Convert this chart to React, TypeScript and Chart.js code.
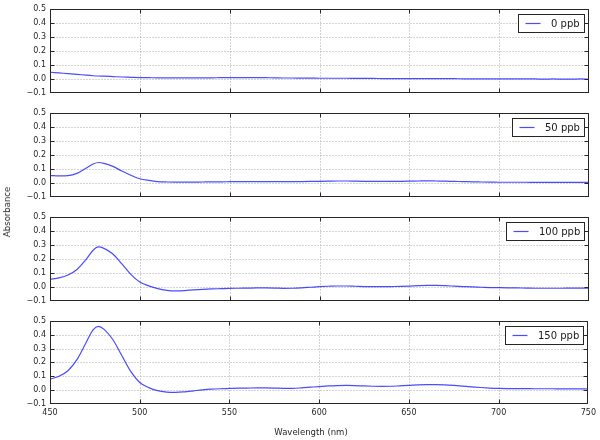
import React, { useEffect, useRef } from "react";
import { Chart, registerables } from "chart.js";

Chart.register(...registerables);

const wavelengths = [
  450, 455, 460, 465, 470, 474, 477, 480, 485, 490, 495,
  500, 505, 510, 515, 520, 525, 530, 535, 540, 545,
  550, 555, 560, 565, 570, 575, 580, 585, 590, 595,
  600, 605, 610, 615, 620, 625, 630, 635, 640, 645,
  650, 655, 660, 665, 670, 675, 680, 685, 690, 695,
  700, 705, 710, 715, 720, 725, 730, 735, 740, 745, 750,
];

const ppb0 = [
  0.048, 0.043, 0.038, 0.033, 0.027, 0.023, 0.021, 0.020, 0.017, 0.014, 0.012,
  0.010, 0.009, 0.008, 0.008, 0.008, 0.008, 0.008, 0.008, 0.008, 0.009,
  0.009, 0.009, 0.010, 0.010, 0.009, 0.008, 0.007, 0.007, 0.006, 0.006,
  0.005, 0.005, 0.005, 0.005, 0.004, 0.004, 0.004, 0.003, 0.003, 0.003,
  0.003, 0.002, 0.003, 0.002, 0.002, 0.002, 0.001, 0.001, 0.001, 0.001,
  0.000, 0.001, 0.000, 0.000, 0.000, -0.001, 0.000, -0.001, -0.001, 0.000, -0.002,
];

const ppb50 = [
  0.053, 0.050, 0.052, 0.068, 0.105, 0.135, 0.146, 0.140, 0.118, 0.085, 0.055,
  0.030, 0.018, 0.010, 0.007, 0.006, 0.006, 0.006, 0.007, 0.008, 0.008,
  0.009, 0.010, 0.010, 0.010, 0.010, 0.009, 0.009, 0.009, 0.010, 0.011,
  0.012, 0.013, 0.014, 0.014, 0.013, 0.012, 0.011, 0.011, 0.011, 0.012,
  0.013, 0.014, 0.015, 0.014, 0.013, 0.011, 0.010, 0.008, 0.007, 0.006,
  0.005, 0.005, 0.005, 0.005, 0.004, 0.004, 0.004, 0.004, 0.004, 0.004, 0.004,
];

const ppb100 = [
  0.055, 0.065, 0.085, 0.125, 0.195, 0.262, 0.285, 0.275, 0.235, 0.165, 0.090,
  0.035, 0.008, -0.012, -0.024, -0.028, -0.026, -0.021, -0.017, -0.014, -0.012,
  -0.010, -0.009, -0.008, -0.007, -0.007, -0.008, -0.010, -0.009, -0.006, -0.002,
  0.002, 0.005, 0.007, 0.007, 0.005, 0.003, 0.002, 0.002, 0.003, 0.004,
  0.006, 0.009, 0.011, 0.011, 0.009, 0.006, 0.003, 0.000, -0.002, -0.004,
  -0.005, -0.006, -0.007, -0.008, -0.009, -0.009, -0.009, -0.009, -0.008, -0.008, -0.008,
];

const ppb150 = [
  0.080, 0.100, 0.140, 0.220, 0.340, 0.435, 0.460, 0.440, 0.365, 0.250, 0.135,
  0.055, 0.018, -0.004, -0.014, -0.016, -0.012, -0.005, 0.002, 0.007, 0.010,
  0.012, 0.014, 0.015, 0.016, 0.016, 0.015, 0.013, 0.013, 0.016, 0.021,
  0.026, 0.030, 0.033, 0.034, 0.033, 0.030, 0.028, 0.027, 0.028, 0.031,
  0.034, 0.038, 0.040, 0.040, 0.038, 0.034, 0.029, 0.024, 0.019, 0.015,
  0.012, 0.011, 0.011, 0.011, 0.010, 0.010, 0.010, 0.009, 0.009, 0.009, 0.008,
];

const seriesLabels = ["0 ppb", "50 ppb", "100 ppb", "150 ppb"];
const seriesValues = [ppb0, ppb50, ppb100, ppb150];

const yTicks = [-0.1, 0, 0.1, 0.2, 0.3, 0.4, 0.5];
const xTicks = [450, 500, 550, 600, 650, 700, 750];

const xAxisTitle = "Wavelength (nm)";
const yAxisTitle = "Absorbance";

const LINE_COLOR = "rgba(30,30,255,0.8)";
const FONT = '"DejaVu Sans", sans-serif';

const clamp = (v: number, lo: number, hi: number) => Math.max(lo, Math.min(hi, v));

const frameBox = (a: any) => ({
  L: Math.round(a.left) + 0.5,
  R: Math.round(a.right) - 0.5,
  T: Math.round(a.top) + 0.5,
  B: Math.round(a.bottom) - 0.5,
});

const panelPlugin = {
  id: "panelDecor",
  beforeDatasetsDraw(chart: any) {
    const { ctx, chartArea: a, scales } = chart;
    const x = scales.x;
    const y = scales.y;
    const { L, R, T, B } = frameBox(a);
    ctx.save();
    ctx.strokeStyle = "#a8a8a8";
    ctx.lineWidth = 1;
    ctx.setLineDash([1, 2]);
    for (const v of yTicks) {
      const py = clamp(Math.round(y.getPixelForValue(v)) + 0.5, T, B);
      ctx.beginPath();
      ctx.moveTo(L, py);
      ctx.lineTo(R, py);
      ctx.stroke();
    }
    for (const v of xTicks) {
      const px = clamp(Math.round(x.getPixelForValue(v)) + 0.5, L, R);
      ctx.beginPath();
      ctx.moveTo(px, T);
      ctx.lineTo(px, B);
      ctx.stroke();
    }
    ctx.restore();
  },
  afterDatasetsDraw(chart: any) {
    const { ctx, chartArea: a, scales } = chart;
    const x = scales.x;
    const y = scales.y;
    const { L, R, T, B } = frameBox(a);
    ctx.save();
    ctx.setLineDash([]);
    ctx.strokeStyle = "#262626";
    ctx.lineWidth = 1;
    ctx.strokeRect(L, T, R - L, B - T);
    // inward tick marks
    ctx.beginPath();
    for (const v of yTicks) {
      const py = clamp(Math.round(y.getPixelForValue(v)) + 0.5, T, B);
      ctx.moveTo(L, py);
      ctx.lineTo(L + 4, py);
      ctx.moveTo(R, py);
      ctx.lineTo(R - 4, py);
    }
    for (const v of xTicks) {
      const px = clamp(Math.round(x.getPixelForValue(v)) + 0.5, L, R);
      ctx.moveTo(px, T);
      ctx.lineTo(px, T + 4);
      ctx.moveTo(px, B);
      ctx.lineTo(px, B - 4);
    }
    ctx.stroke();

    // legend box
    const label = chart.data.datasets[0].label as string;
    ctx.font = `10px ${FONT}`;
    const tw = ctx.measureText(label).width;
    const padL = 7;
    const lineLen = 15;
    const gap = 10.5;
    const padR = 4.5;
    const w = Math.round(padL + lineLen + gap + tw + padR);
    const h = 18;
    const bx = Math.round(a.right - 5 - w) + 0.5;
    const by = Math.round(a.top + 5) + 0.5;
    ctx.fillStyle = "#ffffff";
    ctx.fillRect(bx, by, w, h);
    ctx.strokeStyle = "#262626";
    ctx.strokeRect(bx, by, w, h);
    const cy = by + h / 2;
    ctx.strokeStyle = LINE_COLOR;
    ctx.lineWidth = 1.2;
    ctx.beginPath();
    ctx.moveTo(bx + padL, cy);
    ctx.lineTo(bx + padL + lineLen, cy);
    ctx.stroke();
    ctx.fillStyle = "#1a1a1a";
    ctx.textBaseline = "middle";
    ctx.textAlign = "left";
    ctx.fillText(label, bx + padL + lineLen + gap, cy + 0.5);
    ctx.restore();
  },
};

const fmtY = (v: number) => {
  const s = Math.abs(v).toFixed(1);
  return v < -1e-9 ? "\u2212" + s : s;
};

function Panel({ index, showX }: { index: number; showX: boolean }) {
  const ref = useRef<HTMLCanvasElement | null>(null);
  const height = showX ? 128 : 104;
  const top = index * 104;

  useEffect(() => {
    if (!ref.current) return;
    const values = seriesValues[index];
    const chart = new Chart(ref.current, {
      type: "line",
      data: {
        datasets: [
          {
            label: seriesLabels[index],
            data: wavelengths.map((w, i) => ({ x: w, y: values[i] })),
            borderColor: LINE_COLOR,
            borderWidth: 1.2,
            pointRadius: 0,
            fill: false,
            cubicInterpolationMode: "monotone",
          },
        ],
      },
      options: {
        responsive: false,
        animation: false,
        events: [],
        layout: {
          padding: { top: 6, right: 11, bottom: showX ? 0 : 11, left: 0 },
        },
        plugins: {
          legend: { display: false },
          tooltip: { enabled: false },
          title: { display: false },
        },
        scales: {
          x: {
            type: "linear",
            min: 450,
            max: 750,
            grid: { display: false, drawTicks: false },
            border: { display: false },
            afterBuildTicks: (s: any) => {
              s.ticks = xTicks.map((v) => ({ value: v }));
            },
            afterFit: (s: any) => {
              s.height = showX ? 36 : 0;
            },
            ticks: {
              display: showX,
              padding: 4,
              color: "#262626",
              font: { family: FONT, size: 8 },
              maxRotation: 0,
              autoSkip: false,
              callback: (v: any) => String(v),
            },
          },
          y: {
            type: "linear",
            min: -0.1,
            max: 0.5,
            grid: { display: false, drawTicks: false },
            border: { display: false },
            afterBuildTicks: (s: any) => {
              s.ticks = yTicks.map((v) => ({ value: v }));
            },
            afterFit: (s: any) => {
              s.width = 50;
            },
            ticks: {
              padding: 4,
              color: "#262626",
              font: { family: FONT, size: 8 },
              autoSkip: false,
              callback: (v: any) => fmtY(Number(v)),
            },
          },
        },
      } as any,
      plugins: [panelPlugin],
    });
    return () => chart.destroy();
  }, [index, showX]);

  return (
    <canvas
      ref={ref}
      width={600}
      height={height}
      style={{ position: "absolute", left: 0, top, width: 600, height }}
    />
  );
}

export default function App() {
  return (
    <div
      style={{
        position: "fixed",
        left: 0,
        top: 0,
        width: 600,
        height: 440,
        background: "#ffffff",
        overflow: "hidden",
        fontFamily: FONT,
      }}
    >
      {seriesLabels.map((_, i) => (
        <Panel key={i} index={i} showX={i === seriesLabels.length - 1} />
      ))}
      <div
        style={{
          position: "absolute",
          left: 311,
          top: 432,
          transform: "translate(-50%, -50%)",
          fontSize: 8.5,
          color: "#262626",
          whiteSpace: "nowrap",
        }}
      >
        {xAxisTitle}
      </div>
      <div
        style={{
          position: "absolute",
          left: 7,
          top: 212,
          transform: "translate(-50%, -50%) rotate(-90deg)",
          fontSize: 8.5,
          color: "#262626",
          whiteSpace: "nowrap",
        }}
      >
        {yAxisTitle}
      </div>
    </div>
  );
}
